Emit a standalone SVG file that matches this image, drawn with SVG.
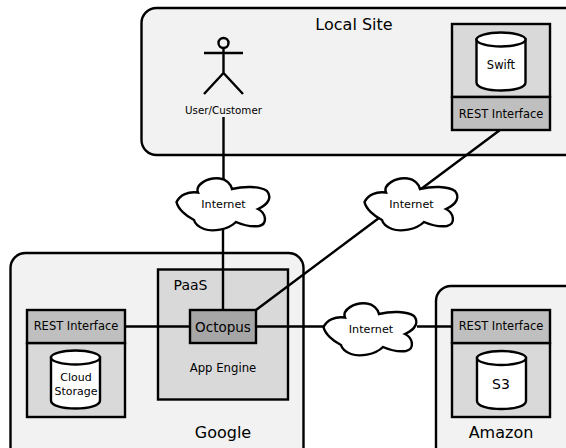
<svg xmlns="http://www.w3.org/2000/svg" width="566" height="448" viewBox="0 0 566 448">
<style>
text{font-family:"DejaVu Sans",sans-serif;fill:#000;text-anchor:middle}
.s{stroke:#000;stroke-width:2.400}
.site{fill:#f2f2f2}
.light{fill:#d9d9d9}
.mid{fill:#bfbfbf}
.dark{fill:#a6a6a6}
.w{fill:#fff}
.l{fill:none;stroke:#000;stroke-width:2.400}
.big{font-size:16px}
.rest{font-size:11.500px}
.net{font-size:11.200px}
</style>
<defs>
<path id="cloud" d="M0.500 24C4 17 12 13 22 14.500C19 7 31 -1 44 0.500C50 1 55 6 56 11C68 8 84 8 91 13C96 19 93 26 82 31C90 35 92 46 83 48C76 49 67 47 60 44C52 52 36 54 28 51C23 49 19 46 18 42C10 38 2 31 0.500 24Z" fill="#fff" stroke="#000" stroke-width="2.400"/>
<g id="cyl">
<path d="M0 7V50C0 55 11 58 24.500 58C38 58 49 55 49 50V7Z" class="w s"/>
<ellipse cx="24.500" cy="7" rx="24.500" ry="7" class="w s"/>
</g>
</defs>
<g id="local-site">
<rect x="141.500" y="8" width="440" height="147" rx="15" class="site s"/>
<text x="354" y="30" class="big">Local Site</text>
</g>
<g id="google">
<rect x="10.500" y="253" width="293" height="215" rx="15" class="site s"/>
<text x="223" y="438" class="big">Google</text>
</g>
<g id="amazon">
<rect x="436" y="286" width="150" height="182" rx="15" class="site s"/>
<text x="501" y="438" class="big">Amazon</text>
</g>
<g id="paas">
<rect x="158" y="269.500" width="130" height="130" class="light s"/>
<text x="190.500" y="290" font-size="14">PaaS</text>
<text x="223" y="372" font-size="11.700">App Engine</text>
</g>
<g id="connectors">
<path class="l" d="M223.500 117V180M223 229V310M500 130L421 189M383 215L256 310M125 326.500H190M256 326.500H323M417 326.500H452"/>
</g>
<g id="user">
<circle cx="223.500" cy="43" r="5" fill="none" stroke="#000" stroke-width="2.400"/>
<path class="l" d="M223.500 48V73M204 53H243M204 94L223.500 73L243 94"/>
<text x="223.500" y="114" font-size="10.300">User/Customer</text>
</g>
<g id="swift">
<rect x="452" y="24" width="98" height="73" class="light s"/>
<rect x="452" y="97" width="98" height="33" class="mid s"/>
<use href="#cyl" x="476.500" y="32.500"/>
<text x="501" y="69" font-size="11.500">Swift</text>
<text x="501" y="118" class="rest">REST Interface</text>
</g>
<g id="cloud-storage">
<rect x="27" y="343" width="98" height="74" class="light s"/>
<rect x="27" y="310" width="98" height="33" class="mid s"/>
<use href="#cyl" x="51" y="350.500"/>
<text x="76" y="381" font-size="11">Cloud</text>
<text x="76" y="395" font-size="11">Storage</text>
<text x="76" y="330" class="rest">REST Interface</text>
</g>
<g id="s3">
<rect x="452" y="343" width="98" height="74" class="light s"/>
<rect x="452" y="310" width="98" height="33" class="mid s"/>
<use href="#cyl" x="477" y="351"/>
<text x="501" y="389" font-size="14">S3</text>
<text x="501" y="330" class="rest">REST Interface</text>
</g>
<g id="octopus">
<rect x="190" y="310" width="66" height="33" class="dark s"/>
<text x="223" y="332" font-size="13.500">Octopus</text>
</g>
<g id="internet-1">
<use href="#cloud" x="176" y="178"/>
<text x="223.500" y="208" class="net">Internet</text>
</g>
<g id="internet-2">
<use href="#cloud" x="364" y="178"/>
<text x="411.500" y="208" class="net">Internet</text>
</g>
<g id="internet-3">
<use href="#cloud" x="323" y="303"/>
<text x="371" y="333" class="net">Internet</text>
</g>
</svg>
